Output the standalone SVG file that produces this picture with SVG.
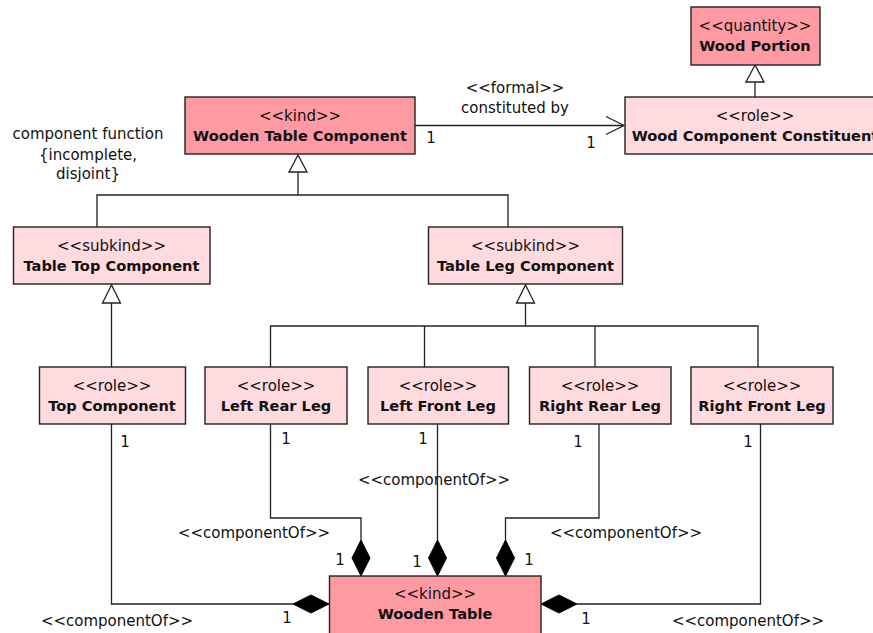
<svg xmlns="http://www.w3.org/2000/svg" width="873" height="633" viewBox="0 0 873 633">
<style>
.n{stroke:#222;stroke-width:1.4}
.k{fill:#FF9AA3}
.r{fill:#FFDADE}
.st{font-family:"DejaVu Sans",sans-serif;font-size:15px;fill:#111;text-anchor:middle}
.nm{font-family:"DejaVu Sans",sans-serif;font-size:14.6px;font-weight:bold;fill:#111;text-anchor:middle}
.lb{font-family:"DejaVu Sans",sans-serif;font-size:15px;fill:#111;text-anchor:middle}
.c{fill:none;stroke:#222;stroke-width:1.3}
.g{fill:#fff;stroke:#222;stroke-width:1.3}
.d{fill:#000;stroke:#000;stroke-width:1}
</style>
<rect width="873" height="633" fill="#fff"/>
<g id="connectors">
  <!-- constituted by -->
  <line class="c" x1="415" y1="125.5" x2="624" y2="125.5"/>
  <polyline class="c" points="606,116.5 624,125.5 606,134.5"/>
  <!-- Wood Component Constituent -> Wood Portion -->
  <line class="c" x1="755" y1="82" x2="755" y2="97"/>
  <polygon class="g" points="755,65 746,82 764,82"/>
  <!-- subkinds -> Wooden Table Component -->
  <polyline class="c" points="97,227 97,195 508,195 508,227"/>
  <line class="c" x1="298" y1="195" x2="298" y2="172"/>
  <polygon class="g" points="298,155 289,172 307,172"/>
  <!-- Top Component -> Table Top Component -->
  <line class="c" x1="111.5" y1="303" x2="111.5" y2="367"/>
  <polygon class="g" points="111.5,285 102.5,303 120.5,303"/>
  <!-- legs -> Table Leg Component -->
  <polyline class="c" points="270.5,367 270.5,326 758,326 758,367"/>
  <line class="c" x1="424.5" y1="326" x2="424.5" y2="367"/>
  <line class="c" x1="595" y1="326" x2="595" y2="367"/>
  <line class="c" x1="525.5" y1="326" x2="525.5" y2="303"/>
  <polygon class="g" points="525.5,285 516.5,303 534.5,303"/>
  <!-- componentOf: Top Component -->
  <polyline class="c" points="111.5,424 111.5,604 293,604"/>
  <polygon class="d" points="329,604 311,595 293,604 311,613"/>
  <!-- componentOf: Left Rear Leg -->
  <polyline class="c" points="270.5,424 270.5,518 361,518 361,540"/>
  <polygon class="d" points="361,540 370,558 361,576 352,558"/>
  <!-- componentOf: Left Front Leg -->
  <line class="c" x1="437.5" y1="424" x2="437.5" y2="540"/>
  <polygon class="d" points="437.5,540 446.5,558 437.5,576 428.5,558"/>
  <!-- componentOf: Right Rear Leg -->
  <polyline class="c" points="599,424 599,518 505.5,518 505.5,540"/>
  <polygon class="d" points="505.5,540 514.5,558 505.5,576 496.5,558"/>
  <!-- componentOf: Right Front Leg -->
  <polyline class="c" points="760.5,424 760.5,604 577,604"/>
  <polygon class="d" points="541,604 559,595 577,604 559,613"/>
</g>
<g id="labels">
  <text class="lb" x="515" y="93">&lt;&lt;formal&gt;&gt;</text>
  <text class="lb" x="515" y="113">constituted by</text>
  <text class="lb" x="431" y="143">1</text>
  <text class="lb" x="591" y="148">1</text>
  <text class="lb" x="88" y="139">component function</text>
  <text class="lb" x="88" y="160">{incomplete,</text>
  <text class="lb" x="88" y="179">disjoint}</text>
  <text class="lb" x="125" y="447">1</text>
  <text class="lb" x="287" y="623">1</text>
  <text class="lb" x="117" y="626">&lt;&lt;componentOf&gt;&gt;</text>
  <text class="lb" x="286" y="444">1</text>
  <text class="lb" x="254" y="538">&lt;&lt;componentOf&gt;&gt;</text>
  <text class="lb" x="340" y="565">1</text>
  <text class="lb" x="423" y="444">1</text>
  <text class="lb" x="434" y="485">&lt;&lt;componentOf&gt;&gt;</text>
  <text class="lb" x="417" y="567">1</text>
  <text class="lb" x="578" y="447">1</text>
  <text class="lb" x="626" y="538">&lt;&lt;componentOf&gt;&gt;</text>
  <text class="lb" x="529" y="565">1</text>
  <text class="lb" x="748" y="447">1</text>
  <text class="lb" x="586" y="624">1</text>
  <text class="lb" x="748" y="626">&lt;&lt;componentOf&gt;&gt;</text>
</g>
<g id="wooden-table-component">
  <rect class="n k" x="185" y="97" width="230" height="57"/>
  <text class="st" x="300" y="121">&lt;&lt;kind&gt;&gt;</text>
  <text class="nm" x="300" y="141">Wooden Table Component</text>
</g>
<g id="wood-portion">
  <rect class="n k" x="691" y="7" width="129" height="58"/>
  <text class="st" x="755" y="31">&lt;&lt;quantity&gt;&gt;</text>
  <text class="nm" x="755" y="51">Wood Portion</text>
</g>
<g id="wood-component-constituent">
  <rect class="n r" x="625" y="97" width="260" height="57"/>
  <text class="st" x="755" y="121">&lt;&lt;role&gt;&gt;</text>
  <text class="nm" x="755" y="141">Wood Component Constituent</text>
</g>
<g id="table-top-component">
  <rect class="n r" x="13.5" y="227" width="196.5" height="57"/>
  <text class="st" x="111.5" y="251">&lt;&lt;subkind&gt;&gt;</text>
  <text class="nm" x="111.5" y="271">Table Top Component</text>
</g>
<g id="table-leg-component">
  <rect class="n r" x="428.5" y="227" width="194" height="57"/>
  <text class="st" x="525.5" y="251">&lt;&lt;subkind&gt;&gt;</text>
  <text class="nm" x="525.5" y="271">Table Leg Component</text>
</g>
<g id="top-component">
  <rect class="n r" x="39.5" y="367" width="146" height="57"/>
  <text class="st" x="112" y="391">&lt;&lt;role&gt;&gt;</text>
  <text class="nm" x="112" y="411">Top Component</text>
</g>
<g id="left-rear-leg">
  <rect class="n r" x="205" y="367" width="142" height="57"/>
  <text class="st" x="276" y="391">&lt;&lt;role&gt;&gt;</text>
  <text class="nm" x="276" y="411">Left Rear Leg</text>
</g>
<g id="left-front-leg">
  <rect class="n r" x="368" y="367" width="140.5" height="57"/>
  <text class="st" x="438" y="391">&lt;&lt;role&gt;&gt;</text>
  <text class="nm" x="438" y="411">Left Front Leg</text>
</g>
<g id="right-rear-leg">
  <rect class="n r" x="529.5" y="367" width="141.5" height="57"/>
  <text class="st" x="600" y="391">&lt;&lt;role&gt;&gt;</text>
  <text class="nm" x="600" y="411">Right Rear Leg</text>
</g>
<g id="right-front-leg">
  <rect class="n r" x="691" y="367" width="142" height="57"/>
  <text class="st" x="762" y="391">&lt;&lt;role&gt;&gt;</text>
  <text class="nm" x="762" y="411">Right Front Leg</text>
</g>
<g id="wooden-table">
  <rect class="n k" x="329.5" y="576" width="211.5" height="70"/>
  <text class="st" x="435" y="599">&lt;&lt;kind&gt;&gt;</text>
  <text class="nm" x="435" y="619">Wooden Table</text>
</g>
</svg>
